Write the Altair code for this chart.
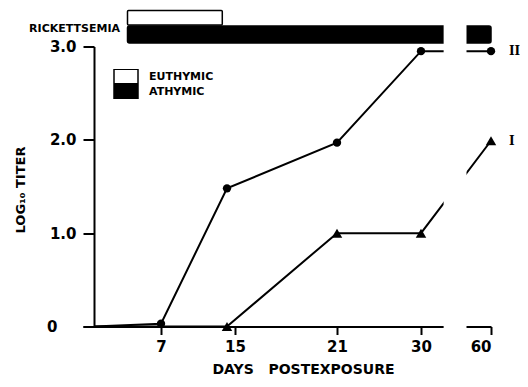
import altair as alt
import pandas as pd

# ---- data ----
DAYS = [0, 7, 14, 21, 30, 60]
TITER_II = [0.0, 0.03, 1.48, 1.97, 2.95, 2.95]
TITER_I = [0.0, 0.0, 0.0, 1.0, 1.0, 1.99]
SERIES = ["II", "I"]
MARK_FROM = [7, 14]          # first day with a plotted marker, per series
SHAPES = ["circle", "triangle-up"]

GROUPS = ["EUTHYMIC", "ATHYMIC"]
RICK_START = [3.5, 3.5]
RICK_END = [13.5, 60]

X_TICKS = [7, 15, 21, 30, 60]
Y_TICKS = [0, 1, 2, 3]
# non-uniform (hand drawn) day axis, as a piecewise linear scale
X_DOMAIN = [-1.15, 0, 7, 14, 15, 21, 30, 60]
X_RANGE = [0, 11, 78, 144, 152, 254, 338, 408]
AXIS_BREAK = [39.7, 49.5]

FONT = "DejaVu Sans"

rows = []
for s, vals, mf in zip(SERIES, [TITER_II, TITER_I], MARK_FROM):
    for d, v in zip(DAYS, vals):
        rows.append({"day": d, "titer": v, "series": s, "markfrom": mf})
df = pd.DataFrame(rows)
bars = pd.DataFrame({"group": GROUPS, "start": RICK_START, "end": RICK_END})
brk = pd.DataFrame({"b0": [AXIS_BREAK[0]], "b1": [AXIS_BREAK[1]]})
one = pd.DataFrame({"t": ["RICKETTSEMIA"]})

XTITLE = "DAYS\u00a0\u00a0\u00a0POSTEXPOSURE"
YTITLE = "LOG\u2081\u2080 TITER"
xscale = alt.Scale(domain=X_DOMAIN, range=X_RANGE, nice=False, zero=False)
yscale = alt.Scale(domain=[0, 3], nice=False, zero=False)
xaxis = alt.Axis(values=X_TICKS, format="d", grid=False, zindex=0,
                 domainColor="black", domainWidth=2, tickColor="black",
                 tickWidth=2, tickSize=8, labelPadding=5, labelFont=FONT,
                 labelFontSize=15, labelFontWeight="bold", labelColor="black",
                 title=XTITLE, titleFont=FONT, titleFontSize=14,
                 titleFontWeight="bold", titleColor="black", titleX=220,
                 titleY=47, titleAlign="center", titleBaseline="alphabetic")
yaxis = alt.Axis(values=Y_TICKS, grid=False, zindex=0, offset=-11,
                 labelExpr="datum.value == 0 ? '0' : format(datum.value, '.1f')",
                 domainColor="black", domainWidth=2, tickColor="black",
                 tickWidth=2, tickSize=11,
                 labelPadding={"condition": {"test": "datum.value == 0", "value": 26}, "value": 7},
                 labelFont=FONT,
                 labelFontSize=15, labelFontWeight="bold", labelColor="black",
                 title=YTITLE, titleFont=FONT, titleFontSize=13,
                 titleFontWeight="bold", titleColor="black", titleX=-74,
                 titleY=143, titleAngle=270, titleAlign="center",
                 titleBaseline="middle")

X = lambda f: alt.X(f, scale=xscale, axis=xaxis, title=XTITLE)
Y = lambda f: alt.Y(f, scale=yscale, axis=yaxis, title=YTITLE)

color = alt.Color("group:N", scale=alt.Scale(domain=GROUPS, range=["white", "black"]),
                  legend=alt.Legend(title=None, orient="none", legendX=30, legendY=22.5,
                                    symbolType="M-1,-0.6H1V0.6H-1Z", symbolSize=576,
                                    symbolStrokeColor="black", symbolStrokeWidth=1.5,
                                    clipHeight=15, rowPadding=0, labelOffset=10,
                                    labelFont=FONT, labelFontWeight="bold", labelFontSize=11,
                                    labelColor="black", padding=0))

white_bar = alt.Chart(bars).transform_filter("datum.group == 'EUTHYMIC'").mark_rect(
    stroke="black", strokeWidth=1.5, cornerRadius=1).encode(
    x=X("start:Q"), x2="end:Q", y=alt.value(-36), y2=alt.value(-21.5), color=color)
black_bar = alt.Chart(bars).transform_filter("datum.group == 'ATHYMIC'").mark_rect(
    stroke="black", strokeWidth=1.5, cornerRadius=2).encode(
    x=X("start:Q"), x2="end:Q", y=alt.value(-20.5), y2=alt.value(-3.5), color=color)

lines = alt.Chart(df).mark_line(color="black", strokeWidth=2).encode(
    x=X("day:Q"), y=Y("titer:Q"), detail="series:N")

pts = alt.Chart(df).transform_filter("datum.day >= datum.markfrom").mark_point(
    filled=True, color="black", opacity=1).encode(
    x=X("day:Q"), y=Y("titer:Q"),
    shape=alt.Shape("series:N", scale=alt.Scale(domain=SERIES, range=SHAPES), legend=None),
    size=alt.Size("series:N", scale=alt.Scale(domain=SERIES, range=[70, 110]), legend=None))

mask = alt.Chart(brk).mark_rect(fill="white").encode(
    x=X("b0:Q"), x2="b1:Q", y=alt.value(-22.5), y2=alt.value(284))

labels = alt.Chart(df).transform_filter("datum.day == 60").mark_text(
    align="left", baseline="middle", dx=18, font="DejaVu Serif",
    fontWeight="bold", fontSize=12, color="black").encode(
    x=X("day:Q"), y=Y("titer:Q"), text="series:N")

rick = alt.Chart(one).mark_text(align="right", baseline="middle", font=FONT,
                                fontWeight="bold", fontSize=11, color="black").encode(
    x=alt.value(37), y=alt.value(-18), text="t:N")

chart = alt.layer(white_bar, black_bar, lines, pts, mask, labels, rick).properties(
    width=408, height=280,
    autosize=alt.AutoSizeParams(type="none"),
    padding={"left": 75, "top": 38.5, "right": 29, "bottom": 52.5},
    background="white",
).configure_view(stroke=None)

chart.save("out.html", embed_options={"renderer": "svg", "actions": False})
